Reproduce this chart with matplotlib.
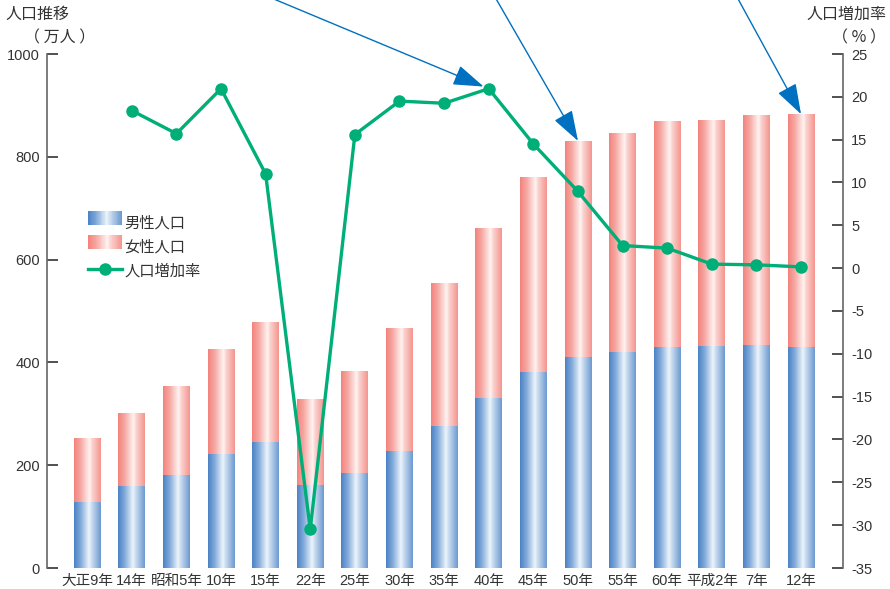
import numpy as np
import matplotlib
matplotlib.use("Agg")
import matplotlib.pyplot as plt
from matplotlib.colors import LinearSegmentedColormap
from matplotlib.patches import Rectangle
from matplotlib.legend_handler import HandlerBase
from matplotlib.lines import Line2D

plt.rcParams['font.family'] = ['Liberation Sans', 'Noto Sans CJK JP']
plt.rcParams['axes.unicode_minus'] = False

years = ["大正9年", "14年", "昭和5年", "10年", "15年", "22年", "25年", "30年", "35年",
         "40年", "45年", "50年", "55年", "60年", "平成2年", "7年", "12年"]
male = [128, 160, 181, 222, 246, 161, 185, 228, 276, 330, 381, 410, 420, 430, 432, 434, 430]
female = [125, 142, 173, 204, 233, 168, 198, 239, 278, 332, 380, 421, 426, 440, 440, 447, 453]
growth = [np.nan, 18.4, 15.7, 20.95, 11.0, -30.5, 15.6, 19.5, 19.25, 20.95, 14.5,
          8.95, 2.64, 2.34, 0.47, 0.39, 0.15]
# arrows point at these categories: 40年 (rate point), 50年 and 12年 (bar tops)
arrow_idx = [9, 11, 16]

TXT = "#333333"
GREEN = "#00ae78"
ARROW = "#0070c0"

cm_male = LinearSegmentedColormap.from_list("male", [
    (0.0, "#4a82c5"), (0.25, "#82aad9"), (0.56, "#edf5fc"), (0.64, "#cfe0f2"), (1.0, "#6c99d0")])
cm_female = LinearSegmentedColormap.from_list("female", [
    (0.0, "#f3827b"), (0.25, "#f6a8a3"), (0.58, "#fff4f2"), (0.66, "#fbd6d3"), (1.0, "#f5948e")])
grad = np.linspace(0, 1, 256).reshape(1, -1)


class GradientHandler(HandlerBase):
    def __init__(self, cmap, n=40):
        super().__init__()
        self.cmap, self.n = cmap, n

    def create_artists(self, legend, orig, xd, yd, w, h, fs, trans):
        arts = []
        for i in range(self.n):
            r = Rectangle((xd + w * i / self.n, yd), w / self.n + 0.3, h,
                          facecolor=self.cmap((i + 0.5) / self.n), edgecolor="none",
                          transform=trans)
            arts.append(r)
        return arts


fig = plt.figure(figsize=(8.9, 5.89), dpi=100)
ax = fig.add_axes([47 / 890, 1 - 568 / 589, 796 / 890, 514 / 589])
ax2 = ax.twinx()

x = np.arange(len(years))
w = 0.6
bars_m = ax.bar(x, male, w, facecolor="none", edgecolor="none")
bars_f = ax.bar(x, female, w, bottom=male, facecolor="none", edgecolor="none")
for bars, cmap in ((bars_m, cm_male), (bars_f, cm_female)):
    for b in bars:
        x0, y0 = b.get_x(), b.get_y()
        im = ax.imshow(grad, cmap=cmap, aspect="auto", interpolation="bilinear",
                       extent=[x0, x0 + b.get_width(), y0, y0 + b.get_height()], zorder=2)
        im.set_clip_path(b)

ax2.plot(x, growth, color=GREEN, lw=2.4, marker="o", ms=8, zorder=3)

ax.set_xlim(-0.9, 16.94)
ax.set_ylim(0, 1000)
ax2.set_ylim(-35, 25)
ax.set_yticks(np.arange(0, 1001, 200))
ax2.set_yticks(np.arange(-35, 26, 5))
ax.set_xticks(x)
ax.set_xticklabels(years)

for a in (ax, ax2):
    for s in ("top", "bottom", "left", "right"):
        a.spines[s].set_visible(False)
ax.spines["left"].set_visible(True)
ax2.spines["right"].set_visible(True)
ax.spines["left"].set_color("#666666")
ax2.spines["right"].set_color("#666666")
ax.spines["left"].set_linewidth(1.2)
ax2.spines["right"].set_linewidth(1.2)

ax.tick_params(axis="y", direction="in", length=8, width=1.1, color="#222222",
               labelsize=10.5, labelcolor=TXT, pad=5)
ax2.tick_params(axis="y", direction="in", length=8, width=1.1, color="#222222",
                labelsize=10.5, labelcolor=TXT, pad=6)
ax.tick_params(axis="x", length=0, labelsize=10.5, labelcolor=TXT, pad=4)

# legend with gradient swatches
h_m = Rectangle((0, 0), 1, 1, label="男性人口")
h_f = Rectangle((0, 0), 1, 1, label="女性人口")
h_l = Line2D([], [], color=GREEN, lw=2.4, marker="o", ms=8, label="人口増加率")
leg = ax2.legend(handles=[h_m, h_f, h_l],
                 handler_map={h_m: GradientHandler(cm_male), h_f: GradientHandler(cm_female)},
                 loc="upper left", bbox_to_anchor=((88 - 47) / 796, (568 - 215) / 514),
                 frameon=False, fontsize=11, borderpad=0, borderaxespad=0,
                 handlelength=2.2, handleheight=1.1, handletextpad=0.2,
                 labelspacing=0.55, labelcolor=TXT)

# blue pointer arrows coming in from above the plot
starts = [(269, 592), (495, 592), (737, 592)]
targets = [(ax2.transData, (x[arrow_idx[0]], growth[arrow_idx[0]]), 4),
           (ax.transData, (x[arrow_idx[1]], male[arrow_idx[1]] + female[arrow_idx[1]]), 0),
           (ax.transData, (x[arrow_idx[2]], male[arrow_idx[2]] + female[arrow_idx[2]]), 0)]
for (sx, sy), (tr, xy, shrink) in zip(starts, targets):
    ax2.annotate("", xy=xy, xycoords=tr, xytext=(sx, sy), textcoords="figure pixels",
                 annotation_clip=False,
                 arrowprops=dict(arrowstyle="-|>,head_length=0.95,head_width=0.32",
                                 mutation_scale=20, color=ARROW, lw=1.0,
                                 shrinkA=0, shrinkB=shrink))

cjk = ["Noto Sans CJK JP", "Liberation Sans"]
fig.text(5 / 890, 1 - 14 / 589, "人口推移", ha="left", va="center", fontsize=11.5, color=TXT,
         family=cjk)
fig.text(60 / 890, 1 - 38 / 589, "（ 万人 ）", ha="center", va="center", fontsize=11.5, color=TXT,
         family=cjk)
fig.text(886 / 890, 1 - 14 / 589, "人口増加率", ha="right", va="center", fontsize=11.5, color=TXT,
         family=cjk)
fig.text(859 / 890, 1 - 38 / 589, "（ % ）", ha="center", va="center", fontsize=11.5, color=TXT,
         family=cjk)

fig.savefig("out.png", dpi=100)
